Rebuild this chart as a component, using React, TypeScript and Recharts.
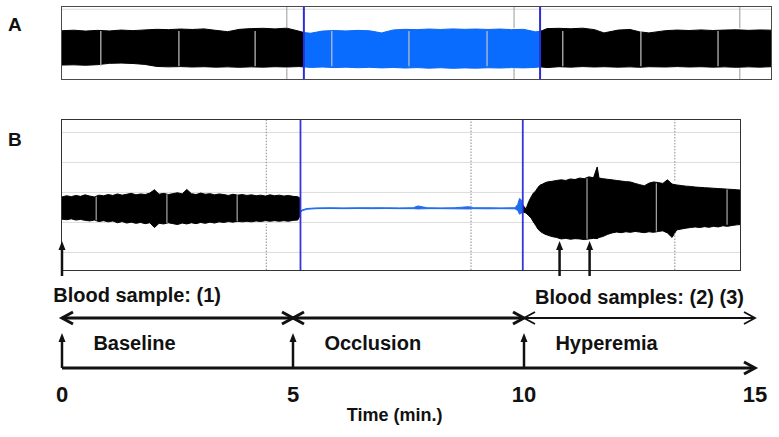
import React from 'react';
import { ComposedChart, Area, XAxis, YAxis, CartesianGrid, ReferenceLine, ReferenceDot } from 'recharts';

const FONT = '"Liberation Sans", Arial, Helvetica, sans-serif';
const INK = '#111';

// Panel A: envelope of the raw trace, [time (min), lower, upper] in % of panel height
const aBaseline: [number, number, number][] = [
  [0, 20.5, 67.5], [0.25, 20.8, 68.2], [0.5, 20.2, 67.0], [0.75, 21.0, 68.0], [1.0, 22.8, 67.2],
  [1.25, 23.2, 68.4], [1.5, 22.6, 67.6], [1.75, 21.4, 68.6], [2.0, 18.6, 69.4], [2.25, 18.0, 69.0],
  [2.5, 18.4, 69.8], [2.75, 17.8, 69.2], [3.0, 18.2, 70.0], [3.25, 17.6, 68.0], [3.5, 18.0, 66.2],
  [3.75, 17.4, 69.4], [4.0, 18.0, 70.4], [4.25, 17.6, 70.8], [4.5, 18.2, 70.0], [4.75, 17.8, 71.0],
  [5.0, 18.4, 67.0], [5.11, 18.0, 65.0],
];
const aOcclusion: [number, number, number][] = [
  [5.11, 18.0, 65.0], [5.25, 17.2, 64.0], [5.5, 17.8, 67.0], [5.75, 17.0, 67.8], [6.0, 17.6, 67.2],
  [6.25, 16.8, 68.0], [6.5, 17.4, 67.4], [6.75, 16.6, 64.5], [7.0, 17.2, 68.6], [7.25, 16.4, 69.4],
  [7.5, 17.0, 69.0], [7.75, 16.2, 69.8], [8.0, 16.8, 69.2], [8.25, 16.0, 70.0], [8.5, 16.6, 69.4],
  [8.75, 16.2, 69.8], [9.0, 16.8, 69.2], [9.25, 16.4, 69.8], [9.5, 17.0, 69.0], [9.75, 16.6, 69.4],
  [10.0, 17.2, 66.0], [10.1, 18.0, 66.5],
];
const aHyperemia: [number, number, number][] = [
  [10.1, 18.0, 66.5], [10.25, 17.0, 70.4], [10.5, 18.2, 70.8], [10.75, 17.6, 70.2], [11.0, 18.4, 71.0],
  [11.25, 17.8, 69.0], [11.45, 18.2, 64.5], [11.75, 17.6, 68.4], [12.0, 18.0, 69.2], [12.2, 17.4, 66.0],
  [12.4, 18.2, 64.5], [12.75, 17.8, 67.6], [13.0, 18.4, 68.4], [13.25, 17.8, 67.8], [13.5, 18.2, 68.6],
  [13.75, 17.6, 67.8], [14.0, 18.0, 68.4], [14.25, 17.4, 68.8], [14.5, 18.0, 68.0], [14.75, 17.6, 68.6],
  [15.0, 18.2, 68.2],
];
const aEdges = [5.11, 10.1];
const aMarks = [4.75, 9.55, 14.32];
const aGaps = [0.82, 2.47, 4.08, 5.7, 7.33, 8.98, 10.58, 12.23, 13.86];
const aGrid = [3.7, 97];

// Panel B: envelope of the flow trace, [time (min), lower, upper] in grid units
const bBaseline: [number, number, number][] = [
  [0, 3.22, 4.7], [0.1, 3.18, 4.78], [0.2, 3.24, 4.72], [0.3, 3.16, 4.8], [0.4, 3.2, 4.74],
  [0.5, 3.14, 4.84], [0.6, 3.1, 4.76], [0.7, 3.16, 4.7], [0.8, 3.06, 4.82], [0.9, 3.12, 4.78],
  [1.0, 3.04, 4.86], [1.1, 3.1, 4.8], [1.2, 2.98, 4.9], [1.3, 3.06, 4.82], [1.4, 2.96, 4.88],
  [1.5, 3.02, 4.94], [1.6, 2.94, 4.84], [1.7, 3.0, 4.9], [1.8, 2.92, 4.86], [1.9, 2.98, 4.96],
  [2.0, 2.66, 5.18], [2.1, 2.94, 4.88], [2.2, 2.9, 4.94], [2.3, 2.98, 4.86], [2.4, 2.92, 4.92],
  [2.5, 2.86, 4.98], [2.6, 2.96, 4.9], [2.7, 2.9, 5.2], [2.8, 2.98, 4.92], [2.9, 2.92, 4.86],
  [3.0, 3.0, 4.96], [3.1, 2.94, 4.88], [3.2, 3.02, 4.92], [3.3, 2.96, 4.84], [3.4, 3.04, 4.9],
  [3.5, 3.0, 4.86], [3.6, 3.06, 4.8], [3.7, 3.02, 4.88], [3.8, 3.08, 4.82], [3.9, 3.04, 4.86],
  [4.0, 3.08, 4.8], [4.1, 3.04, 4.84], [4.2, 3.1, 4.78], [4.3, 3.06, 4.82], [4.4, 3.12, 4.76],
  [4.5, 3.08, 4.84], [4.6, 3.12, 4.78], [4.7, 3.08, 4.82], [4.8, 3.12, 4.76], [4.9, 3.08, 4.8],
  [5.0, 3.14, 4.74], [5.1, 3.16, 4.72], [5.16, 3.5, 4.6],
];
const bOcclusion: [number, number, number][] = [
  [5.16, 3.66, 3.74], [5.2, 3.78, 3.84], [5.3, 3.88, 3.93], [5.5, 3.92, 3.97], [5.8, 3.93, 3.98],
  [6.1, 3.92, 3.97], [6.4, 3.93, 3.98], [6.7, 3.92, 3.98], [7.0, 3.93, 3.98], [7.3, 3.92, 3.97],
  [7.6, 3.92, 3.98], [7.7, 3.9, 4.1], [7.8, 3.91, 4.04], [7.9, 3.92, 3.98], [8.2, 3.92, 3.97],
  [8.5, 3.91, 3.98], [8.8, 3.9, 4.05], [8.9, 3.92, 3.98], [9.2, 3.91, 3.98], [9.5, 3.92, 3.97],
  [9.8, 3.91, 3.98], [9.86, 3.8, 4.2], [9.9, 3.55, 4.6], [9.94, 3.62, 4.5], [9.97, 3.7, 4.16],
];
const bHyperemia: [number, number, number][] = [
  [9.97, 3.7, 4.16], [10.04, 3.63, 3.9], [10.1, 3.45, 4.4], [10.15, 3.3, 4.7], [10.2, 3.03, 4.96],
  [10.25, 2.8, 5.1], [10.3, 2.55, 5.35], [10.35, 2.4, 5.5], [10.4, 2.3, 5.56], [10.45, 2.22, 5.64],
  [10.5, 2.16, 5.7], [10.6, 2.06, 5.74], [10.7, 2.0, 5.8], [10.8, 1.9, 5.84], [10.9, 1.94, 5.8],
  [11.0, 1.88, 5.9], [11.1, 1.92, 5.86], [11.2, 1.9, 5.96], [11.3, 1.86, 5.92], [11.4, 1.9, 6.04],
  [11.5, 1.94, 5.98], [11.58, 1.92, 6.7], [11.62, 2.0, 5.96], [11.7, 2.06, 5.92], [11.8, 2.2, 5.88],
  [11.9, 2.3, 5.84], [12.0, 2.36, 5.8], [12.1, 2.32, 5.76], [12.2, 2.38, 5.72], [12.3, 2.34, 5.7],
  [12.4, 2.4, 5.6], [12.5, 2.36, 5.52], [12.6, 2.32, 5.44], [12.7, 2.38, 5.62], [12.8, 2.34, 5.7],
  [12.9, 2.4, 5.66], [13.0, 2.44, 5.6], [13.1, 2.3, 5.84], [13.2, 2.0, 5.56], [13.3, 2.5, 5.5],
  [13.4, 2.56, 5.46], [13.5, 2.62, 5.42], [13.6, 2.66, 5.4], [13.7, 2.7, 5.36], [13.8, 2.66, 5.34],
  [13.9, 2.72, 5.32], [14.0, 2.68, 5.3], [14.1, 2.74, 5.28], [14.2, 2.7, 5.26], [14.3, 2.78, 5.24],
  [14.4, 2.74, 5.22], [14.5, 2.8, 5.2], [14.6, 2.84, 5.18], [14.67, 2.86, 5.16],
];
const bEdges = [5.16, 9.97];
const bMarks: { t: number; band?: [number, number] }[] = [
  { t: 4.42, band: [2.9, 4.95] },
  { t: 8.85 },
  { t: 13.26, band: [2.3, 5.8] },
];
const bGaps: [number, number, number][] = [
  [0.74, 3.15, 4.72], [2.27, 2.95, 4.88], [3.79, 3.1, 4.82],
  [11.36, 1.92, 5.95], [12.86, 2.4, 5.62], [14.39, 2.84, 5.2],
];
const bGrid = [1, 2, 3, 4, 5, 6, 7, 8, 9];

// timeline below panel B
const phases = [
  { name: 'Baseline', start: 0, end: 5 },
  { name: 'Occlusion', start: 5, end: 10 },
  { name: 'Hyperemia', start: 10, end: 15 },
];
const sampleTimes = [0, 10.77, 11.42];
const timeTicks = [0, 5, 10, 15];

const rows = (trace: [number, number, number][]) => trace.map(([t, lo, hi]) => ({ t, range: [lo, hi] }));

const upArrow = (w: number) => (p: any) => {
  const top = Math.min(p.y1, p.y2);
  const bottom = Math.max(p.y1, p.y2);
  const x = p.x1;
  return (
    <g>
      <line x1={x} y1={bottom} x2={x} y2={top + 8} stroke={INK} strokeWidth={w} />
      <path d={`M${x},${top} L${x - 3.5},${top + 9} L${x + 3.5},${top + 9} Z`} fill={INK} />
    </g>
  );
};

const chevronArrow = (w: number, both: boolean) => (p: any) => {
  const left = Math.min(p.x1, p.x2);
  const right = Math.max(p.x1, p.x2);
  const y = p.y1;
  return (
    <g fill="none" stroke={INK} strokeWidth={w}>
      <line x1={left} y1={y} x2={right - 1} y2={y} />
      <polyline points={`${right - 11},${y - 6} ${right},${y} ${right - 11},${y + 6}`} />
      {both && <polyline points={`${left + 11},${y - 6} ${left},${y} ${left + 11},${y + 6}`} />}
    </g>
  );
};

const textShape = (text: string, size: number, anchor: 'start' | 'middle' = 'start') => (p: any) => (
  <text x={p.cx} y={p.cy} fontFamily={FONT} fontWeight="bold" fontSize={size} fill={INK} textAnchor={anchor}>
    {text}
  </text>
);

const tickShape = (p: any) => (
  <text x={p.x} y={p.y + 22} fontFamily={FONT} fontWeight="bold" fontSize={22} fill={INK} textAnchor="middle">
    {p.payload.value}
  </text>
);

const PanelA = () => (
  <ComposedChart width={710} height={73} margin={{ top: 0, right: 0, bottom: 0, left: 0 }}>
    <CartesianGrid horizontalValues={aGrid} vertical={false} stroke="#d8d8d8" strokeDasharray="" />
    <XAxis hide type="number" dataKey="t" domain={[0, 15]} allowDataOverflow />
    <YAxis hide type="number" domain={[0, 100]} allowDataOverflow />
    {aMarks.map(t => (
      <ReferenceLine key={`a${t}`} segment={[{ x: t, y: 0 }, { x: t, y: 16 }]} stroke="#9a9a9a" />
    ))}
    {aMarks.map(t => (
      <ReferenceLine key={`b${t}`} segment={[{ x: t, y: 71 }, { x: t, y: 100 }]} stroke="#9a9a9a" />
    ))}
    <Area data={rows(aBaseline)} dataKey="range" type="linear" stroke="#000" strokeWidth={1} fill="#000" fillOpacity={1} isAnimationActive={false} dot={false} activeDot={false} />
    <Area data={rows(aOcclusion)} dataKey="range" type="linear" stroke="#0a68f5" strokeWidth={1} fill="#0a6cff" fillOpacity={1} isAnimationActive={false} dot={false} activeDot={false} />
    <Area data={rows(aHyperemia)} dataKey="range" type="linear" stroke="#000" strokeWidth={1} fill="#000" fillOpacity={1} isAnimationActive={false} dot={false} activeDot={false} />
    {aGaps.map(t => (
      <ReferenceLine key={`g${t}`} segment={[{ x: t, y: 19 }, { x: t, y: 67 }]} stroke="#c4c4c4" strokeWidth={1.2} />
    ))}
    {aEdges.map(t => (
      <ReferenceLine key={`e${t}`} x={t} stroke="#2d2dd6" strokeWidth={2} />
    ))}
  </ComposedChart>
);

const PanelB = () => (
  <ComposedChart width={678} height={150} margin={{ top: 0, right: 0, bottom: 0, left: 0 }}>
    <CartesianGrid horizontalValues={bGrid} vertical={false} stroke="#dcdcdc" strokeDasharray="" />
    <XAxis hide type="number" dataKey="t" domain={[0, 14.67]} allowDataOverflow />
    <YAxis hide type="number" domain={[-0.17, 9.83]} allowDataOverflow />
    {bMarks.map(m =>
      m.band ? (
        <React.Fragment key={m.t}>
          <ReferenceLine segment={[{ x: m.t, y: -0.17 }, { x: m.t, y: m.band[0] }]} stroke="#8a8a8a" strokeDasharray="1.5 1.5" />
          <ReferenceLine segment={[{ x: m.t, y: m.band[1] }, { x: m.t, y: 9.83 }]} stroke="#8a8a8a" strokeDasharray="1.5 1.5" />
        </React.Fragment>
      ) : (
        <ReferenceLine key={m.t} x={m.t} stroke="#8a8a8a" strokeDasharray="1.5 1.5" />
      )
    )}
    <Area data={rows(bBaseline)} dataKey="range" type="linear" stroke="#000" strokeWidth={1} fill="#000" fillOpacity={1} isAnimationActive={false} dot={false} activeDot={false} />
    <Area data={rows(bOcclusion)} dataKey="range" type="linear" stroke="#1f6cf0" strokeWidth={1} fill="#1f6cf0" fillOpacity={1} isAnimationActive={false} dot={false} activeDot={false} />
    <Area data={rows(bHyperemia)} dataKey="range" type="linear" stroke="#000" strokeWidth={1} fill="#000" fillOpacity={1} isAnimationActive={false} dot={false} activeDot={false} />
    {bGaps.map(([t, lo, hi]) => (
      <ReferenceLine key={`g${t}`} segment={[{ x: t, y: lo }, { x: t, y: hi }]} stroke="#a8a8a8" strokeWidth={1.2} />
    ))}
    {bEdges.map(t => (
      <ReferenceLine key={`e${t}`} x={t} stroke="#3535dc" strokeWidth={1.8} />
    ))}
  </ComposedChart>
);

// y values here are page rows, so the annotations line up with the panels above
const Timeline = () => (
  <ComposedChart width={779} height={207} data={timeTicks.map(t => ({ t }))} margin={{ top: 0, right: 24, bottom: 0, left: 62 }}>
    <XAxis type="number" dataKey="t" domain={[0, 15]} ticks={timeTicks} interval={0} axisLine={false} tickLine={false} tickSize={0} tickMargin={0} height={57} tick={tickShape} allowDataOverflow />
    <YAxis hide type="number" domain={[230, 380]} reversed allowDataOverflow />
    {sampleTimes.map(t => (
      <ReferenceLine key={`s${t}`} segment={[{ x: t, y: 276 }, { x: t, y: 241 }]} shape={upArrow(2.5)} />
    ))}
    {phases.map((p, i) => (
      <ReferenceLine key={`p${p.name}`} segment={[{ x: p.start, y: 318 }, { x: p.end, y: 318 }]} shape={chevronArrow(i < 2 ? 3 : 1.8, true)} />
    ))}
    {phases.slice(0, 3).map(p => (
      <ReferenceLine key={`u${p.name}`} segment={[{ x: p.start, y: 368 }, { x: p.start, y: 333 }]} shape={upArrow(2.5)} />
    ))}
    <ReferenceLine segment={[{ x: 0, y: 368 }, { x: 15, y: 368 }]} shape={chevronArrow(3, false)} />
    {phases.map(p => (
      <ReferenceDot key={`l${p.name}`} x={p.start + 0.68} y={350} r={0} ifOverflow="visible" shape={textShape(p.name, 20)} />
    ))}
    <ReferenceDot x={-0.19} y={302} r={0} ifOverflow="visible" shape={textShape('Blood sample: (1)', 20)} />
    <ReferenceDot x={10.24} y={304} r={0} ifOverflow="visible" shape={textShape('Blood samples: (2) (3)', 20)} />
    <ReferenceDot x={7.2} y={421} r={0} ifOverflow="visible" shape={textShape('Time (min.)', 18, 'middle')} />
  </ComposedChart>
);

export default function App() {
  return (
    <div style={{ position: 'absolute', left: 0, top: 0, width: 779, height: 437, background: '#fff', overflow: 'hidden' }}>
      <div style={{ position: 'absolute', left: 62, top: 7 }}>
        <PanelA />
      </div>
      <div style={{ position: 'absolute', left: 61, top: 6, width: 711, height: 74, border: '1.5px solid #4a4a4a', boxSizing: 'border-box' }} />
      <div style={{ position: 'absolute', left: 62, top: 120 }}>
        <PanelB />
      </div>
      <div style={{ position: 'absolute', left: 61, top: 119, width: 680, height: 152, border: '1.5px solid #333', boxSizing: 'border-box' }} />
      <div style={{ position: 'absolute', left: 0, top: 230 }}>
        <Timeline />
      </div>
      <svg width={779} height={437} style={{ position: 'absolute', left: 0, top: 0, pointerEvents: 'none' }}>
        <text x={8} y={31} fontFamily={FONT} fontWeight="bold" fontSize={19} fill={INK}>A</text>
        <text x={8} y={146} fontFamily={FONT} fontWeight="bold" fontSize={19} fill={INK}>B</text>
      </svg>
    </div>
  );
}
